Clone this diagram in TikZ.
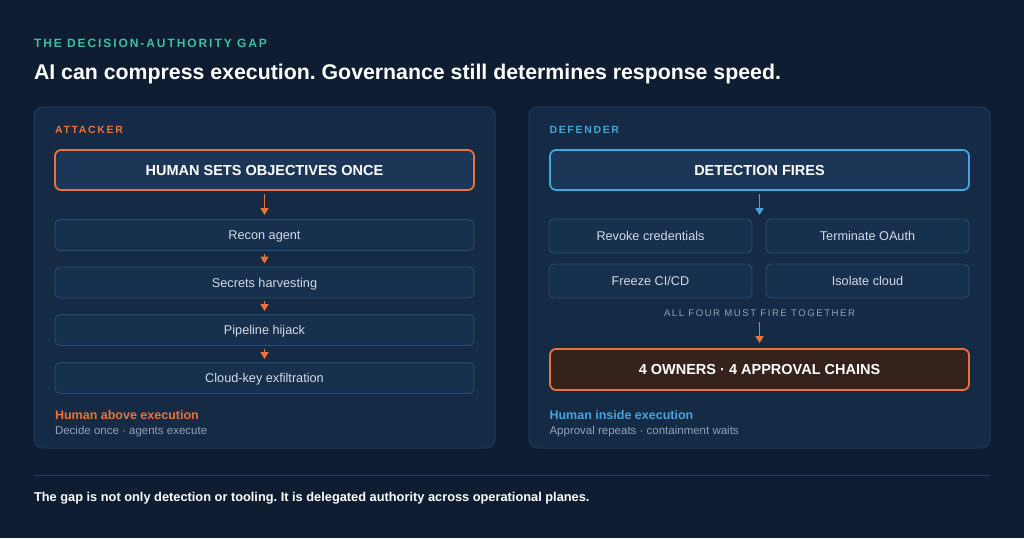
\documentclass[tikz,border=0pt]{standalone}
\usepackage{fontspec}
\setmainfont{Liberation Sans}
\newfontfamily\spacedfont[LetterSpace=16]{Liberation Sans}
\usetikzlibrary{arrows.meta}
\frenchspacing
\definecolor{BgNavy}{HTML}{0E1D31}
\definecolor{PanelFill}{HTML}{142A45}
\definecolor{PanelEdge}{HTML}{213C5C}
\definecolor{StepFill}{HTML}{16304D}
\definecolor{StepEdge}{HTML}{2A4F76}
\definecolor{HeadFill}{HTML}{1B3656}
\definecolor{Orange}{HTML}{E8743B}
\definecolor{SkyBlue}{HTML}{45A5DE}
\definecolor{Teal}{HTML}{3DBFA0}
\definecolor{Mist}{HTML}{D3DBE5}
\definecolor{Slate}{HTML}{93A3B6}
\definecolor{Ember}{HTML}{35221D}
\begin{document}
\begin{tikzpicture}
[
x=1pt, y=-1pt,
>={Triangle[length=7pt,width=8pt]},
Panel/.style={rectangle, rounded corners=9pt, draw=PanelEdge, fill=PanelFill, line width=1pt},
HeadBox/.style={rectangle, rounded corners=6pt, fill=HeadFill, line width=1.8pt, minimum width=419pt, minimum height=40pt, text height=10.4pt, text depth=0pt, text=white, font=\fontsize{14.5}{17}\selectfont\bfseries},
StepBox/.style={rectangle, rounded corners=5pt, draw=StepEdge, fill=StepFill, line width=0.9pt, minimum height=31pt, text height=9.2pt, text depth=0pt, text=Mist, font=\fontsize{12.7}{15}\selectfont},
Eyebrow/.style={anchor=west, font=\fontsize{10.5}{12}\spacedfont\bfseries},
Caption/.style={anchor=west, font=\fontsize{12.5}{15}\selectfont\bfseries},
Note/.style={anchor=west, text=Slate, font=\fontsize{11.5}{14}\selectfont},
OrangeArrow/.style={->, draw=Orange, fill=Orange, line width=1.6pt},
BlueArrow/.style={->, draw=SkyBlue, fill=SkyBlue, line width=1.6pt},
]

\useasboundingbox (0,0) rectangle (1024,538);
\fill[BgNavy] (0,0) rectangle (1024,538);

% header
\node[Eyebrow, text=Teal, font=\fontsize{12}{14}\spacedfont\bfseries] (eyebrow) at (30.5,43) {THE DECISION-AUTHORITY GAP};
\node[anchor=west, text=white, font=\fontsize{21.3}{25}\selectfont\bfseries] (title) at (30.5,74)
  {AI can compress execution. Governance still determines response speed.};

% panels
\draw[Panel] (34,107) rectangle (495,448);
\draw[Panel] (529,107) rectangle (990,448);

% attacker side
\node[Eyebrow, text=Orange] (attacker) at (51.5,130) {ATTACKER};
\node[HeadBox, draw=Orange] (objectives) at (264.5,170) {HUMAN SETS OBJECTIVES ONCE};
\node[StepBox, minimum width=419pt] (recon) at (264.5,235) {Recon agent};
\node[StepBox, minimum width=419pt] (secrets) at (264.5,282.5) {Secrets harvesting};
\node[StepBox, minimum width=419pt] (pipeline) at (264.5,330) {Pipeline hijack};
\node[StepBox, minimum width=419pt] (cloudkey) at (264.5,378) {Cloud-key exfiltration};

\draw[OrangeArrow, shorten <=3pt, shorten >=4pt] (objectives) -- (recon);
\draw[OrangeArrow, shorten <=3pt, shorten >=3pt] (recon) -- (secrets);
\draw[OrangeArrow, shorten <=3pt, shorten >=3pt] (secrets) -- (pipeline);
\draw[OrangeArrow, shorten <=3pt, shorten >=3pt] (pipeline) -- (cloudkey);

\node[Caption, text=Orange] (above) at (51.5,415) {Human above execution};
\node[Note] (decide) at (51.5,432) {Decide once · agents execute};

% defender side
\node[Eyebrow, text=SkyBlue] (defender) at (546,130) {DEFENDER};
\node[HeadBox, draw=SkyBlue] (detection) at (759.5,170) {DETECTION FIRES};
\node[StepBox, minimum width=203pt, minimum height=34pt] (revoke) at (650.5,236) {Revoke credentials};
\node[StepBox, minimum width=203pt, minimum height=34pt] (oauth) at (867.5,236) {Terminate OAuth};
\node[StepBox, minimum width=203pt, minimum height=34pt] (freeze) at (650.5,281) {Freeze CI/CD};
\node[StepBox, minimum width=203pt, minimum height=34pt] (isolate) at (867.5,281) {Isolate cloud};
\coordinate (gridtop) at (759.5,219);

\draw[BlueArrow, shorten <=3pt, shorten >=4pt] (detection) -- (gridtop);

\node[text=Slate, font=\fontsize{9.6}{11}\spacedfont] (together) at (759.5,313.5) {ALL FOUR MUST FIRE TOGETHER};
\node[HeadBox, draw=Orange, fill=Ember, minimum height=41pt] (owners) at (759.5,369.5) {4 OWNERS · 4 APPROVAL CHAINS};

\draw[OrangeArrow, shorten <=2pt, shorten >=5pt] (together) -- (owners);

\node[Caption, text=SkyBlue] (inside) at (546,415) {Human inside execution};
\node[Note] (approval) at (546,432) {Approval repeats · containment waits};

% footer
\draw[PanelEdge, line width=1pt] (34,475) -- (990,475);
\node[anchor=west, text=white, font=\fontsize{12.8}{15}\selectfont\bfseries] (footer) at (30.5,498)
  {The gap is not only detection or tooling. It is delegated authority across operational planes.};

\end{tikzpicture}
\end{document}
